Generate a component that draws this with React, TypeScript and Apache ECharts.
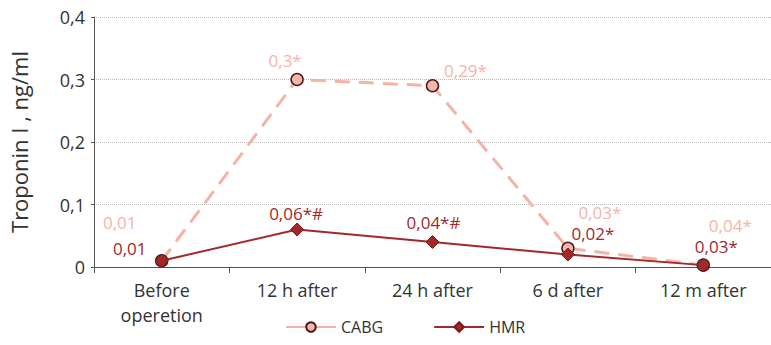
import React, { useEffect, useRef } from "react";
import * as echarts from "echarts";

const categories = ["Before\noperetion", "12 h after", "24 h after", "6 d after", "12 m after"];
const cabgValues = [0.01, 0.3, 0.29, 0.03, 0.003];
const hmrValues = [0.01, 0.06, 0.04, 0.02, 0.003];
const cabgLabels = ["0,01", "0,3*", "0,29*", "0,03*", "0,04*"];
const hmrLabels = ["0,01", "0,06*#", "0,04*#", "0,02*", "0,03*"];
const cabgOffsets = [[-42, -38], [-12, -19], [33, -15], [32, -36], [27, -40]];
const hmrOffsets = [[-32, -12], [-1, -16], [1, -20], [25, -21], [13, -19]];

const FONT = "'Open Sans', 'Liberation Sans', sans-serif";
const CABG_LINE = "#f5b3a6";
const CABG_TEXT = "#f6b4a6";
const HMR_COLOR = "#a3282a";

export default function App() {
  const ref = useRef<HTMLDivElement>(null);
  useEffect(() => {
    const chart = echarts.init(ref.current!, undefined, { renderer: "svg" });
    chart.setOption({
      animation: false,
      grid: { left: 93, right: -1, top: 17, height: 250 },
      legend: {
        bottom: 5,
        left: 280,
        itemWidth: 50,
        itemHeight: 12,
        itemGap: 50,
        lineStyle: { type: "solid" },
        textStyle: { fontFamily: FONT, fontSize: 16, color: "#333" },
        data: ["CABG", "HMR"],
      },
      xAxis: {
        type: "category",
        data: categories,
        boundaryGap: true,
        axisLine: { lineStyle: { color: "#555", width: 1 } },
        axisTick: { show: true, length: 6, lineStyle: { color: "#555" } },
        axisLabel: { fontFamily: FONT, fontSize: 18, color: "#333", margin: 10, lineHeight: 25 },
      },
      yAxis: {
        type: "value",
        min: 0,
        max: 0.4,
        interval: 0.1,
        name: "Troponin I , ng/ml",
        nameLocation: "middle",
        nameGap: 64,
        nameTextStyle: { fontFamily: FONT, fontSize: 22, color: "#333" },
        axisLine: { show: true, lineStyle: { color: "#555" } },
        axisTick: { show: true, length: 3, lineStyle: { color: "#555" } },
        axisLabel: {
          fontFamily: FONT,
          fontSize: 18,
          color: "#333",
          margin: 9,
          formatter: (v: number) => (v === 0 ? "0" : v.toFixed(1).replace(".", ",")),
        },
        splitLine: { show: true, lineStyle: { color: "#bbb", type: "dotted", width: 1 } },
      },
      series: [
        {
          name: "CABG",
          type: "line",
          data: cabgValues.map((v, i) => ({
            value: v,
            label: {
              show: true,
              formatter: cabgLabels[i],
              position: "inside",
              offset: cabgOffsets[i],
            },
          })),
          symbol: "circle",
          symbolSize: 12,
          z: 2,
          lineStyle: { color: CABG_LINE, width: 3, type: [15, 9] },
          itemStyle: { color: "#f4b6aa", borderColor: "#4a1a1a", borderWidth: 1.5 },
          label: { fontFamily: FONT, fontSize: 17, color: CABG_TEXT },
        },
        {
          name: "HMR",
          type: "line",
          data: hmrValues.map((v, i) => ({
            value: v,
            label: {
              show: true,
              formatter: hmrLabels[i],
              position: "inside",
              offset: hmrOffsets[i],
            },
          })),
          symbol: "diamond",
          symbolSize: 13,
          z: 3,
          lineStyle: { color: HMR_COLOR, width: 2 },
          itemStyle: { color: HMR_COLOR, borderColor: "#7a1a1a", borderWidth: 1 },
          label: { fontFamily: FONT, fontSize: 17, color: HMR_COLOR },
        },
      ],
    });
    return () => chart.dispose();
  }, []);
  return (
    <div
      ref={ref}
      style={{ position: "fixed", left: 0, top: 0, width: 771, height: 345, background: "#fff" }}
    />
  );
}
